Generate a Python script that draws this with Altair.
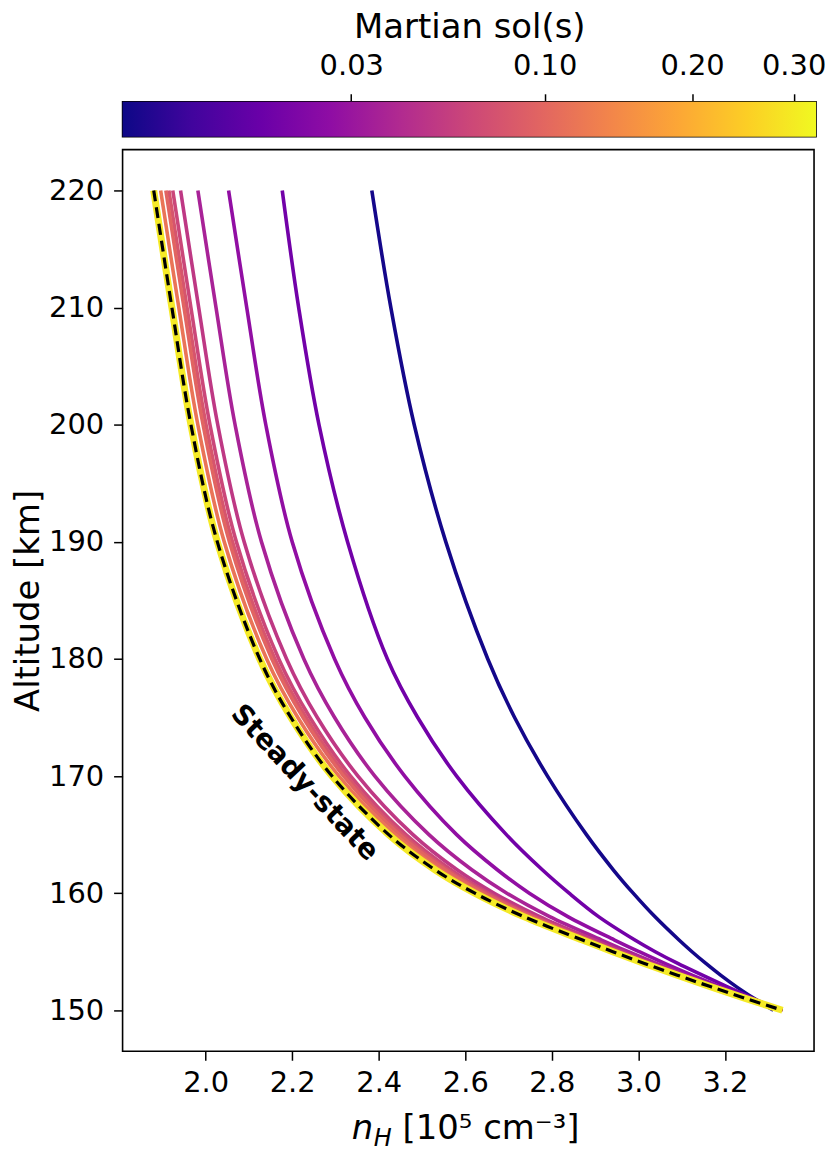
import altair as alt
import pandas as pd

# ---------------- data ----------------
ALT = [220, 210, 200, 190, 180, 175, 170, 165, 162, 160, 158, 156, 155, 154, 153, 152, 151, 150]

STEADY = [1.880, 1.922, 1.966, 2.027, 2.125, 2.197, 2.292, 2.423, 2.530, 2.622,
          2.735, 2.871, 2.941, 3.014, 3.090, 3.168, 3.249, 3.333]

SOL_TIMES = [0.003, 0.016, 0.026, 0.037, 0.053, 0.066, 0.080, 0.097, 0.116]

N_T1 = [2.384, 2.428, 2.482, 2.555, 2.652, 2.714, 2.790, 2.880, 2.942, 2.988,
        3.038, 3.094, 3.124, 3.156, 3.190, 3.227, 3.268, 3.312]
N_T2 = [2.177, 2.215, 2.262, 2.328, 2.420, 2.490, 2.580, 2.695, 2.778, 2.840,
        2.908, 2.992, 3.039, 3.091, 3.148, 3.206, 3.266, 3.326]
N_T3 = [2.053, 2.095, 2.139, 2.200, 2.298, 2.368, 2.460, 2.580, 2.674, 2.748,
        2.837, 2.945, 3.002, 3.061, 3.124, 3.190, 3.259, 3.333]
N_T4 = [1.982, 2.024, 2.068, 2.129, 2.227, 2.298, 2.391, 2.516, 2.615, 2.696,
        2.795, 2.915, 2.977, 3.042, 3.110, 3.181, 3.255, 3.333]
N_T5 = [1.942, 1.984, 2.028, 2.089, 2.187, 2.258, 2.352, 2.479, 2.581, 2.667,
        2.772, 2.898, 2.963, 3.031, 3.102, 3.176, 3.253, 3.333]
N_T6 = [1.924, 1.966, 2.010, 2.071, 2.169, 2.241, 2.335, 2.463, 2.567, 2.654,
        2.761, 2.890, 2.956, 3.026, 3.099, 3.174, 3.252, 3.333]
N_T7 = [1.915, 1.957, 2.001, 2.062, 2.160, 2.232, 2.326, 2.455, 2.559, 2.648,
        2.756, 2.886, 2.953, 3.023, 3.097, 3.172, 3.251, 3.333]
N_T8 = [1.908, 1.950, 1.994, 2.055, 2.153, 2.225, 2.319, 2.448, 2.553, 2.642,
        2.752, 2.883, 2.951, 3.022, 3.095, 3.172, 3.251, 3.333]
N_T9 = [1.896, 1.938, 1.982, 2.043, 2.141, 2.213, 2.308, 2.438, 2.543, 2.634,
        2.744, 2.878, 2.947, 3.018, 3.093, 3.170, 3.250, 3.333]
TRANSIENT = [N_T1, N_T2, N_T3, N_T4, N_T5, N_T6, N_T7, N_T8, N_T9]

FINAL_TIME = 0.30

CB_TICKS = [0.03, 0.10, 0.20, 0.30]
VMIN, VMAX = 0.0027, 0.326
X_TICKS = [2.0, 2.2, 2.4, 2.6, 2.8, 3.0, 3.2]
Y_TICKS = [150, 160, 170, 180, 190, 200, 210, 220]

PLASMA = ["#0d0887", "#41049d", "#6a00a8", "#8f0da4", "#b12a90", "#cc4778",
          "#e16462", "#f2844b", "#fca636", "#fcce25", "#f0f921"]

FONT = "DejaVu Sans"

# ---------------- tables ----------------
rows = []
for k, (t, xs) in enumerate(zip(SOL_TIMES, TRANSIENT)):
    for a, x in zip(ALT, xs):
        rows.append({"curve": k, "t": t, "alt": a, "n": x})
df_tr = pd.DataFrame(rows)
df_ss = pd.DataFrame({"alt": ALT, "n": STEADY, "t": [FINAL_TIME] * len(ALT)})

W, H = 694, 905

xscale = alt.Scale(domain=[1.808, 3.406], nice=False, zero=False)
yscale = alt.Scale(domain=[146.5, 223.5], nice=False, zero=False)
cscale = alt.Scale(type="pow", exponent=0.3, domain=[VMIN, VMAX], scheme="plasma")

xaxis = alt.Axis(values=X_TICKS, format=".1f", title=None, tickSize=9, labelPadding=8)
yaxis = alt.Axis(values=Y_TICKS, format="d", title="Altitude [km]", tickSize=9,
                 labelPadding=10, titlePadding=3)

X = alt.X("n:Q", scale=xscale, axis=xaxis)
Y = alt.Y("alt:Q", scale=yscale, axis=yaxis)

lines = alt.Chart(df_tr).mark_line(strokeWidth=3.6, interpolate="catmull-rom").encode(
    x=X, y=Y,
    color=alt.Color("t:Q", scale=cscale, legend=None),
    detail="curve:N",
    order=alt.Order("alt:Q", sort="descending"),
)

yellow = alt.Chart(df_ss).mark_line(strokeWidth=7, interpolate="catmull-rom").encode(
    x=X, y=Y, color=alt.Color("t:Q", scale=cscale, legend=None),
    order=alt.Order("alt:Q", sort="descending"),
)

dashed = alt.Chart(df_ss).mark_line(
    strokeWidth=3.2, color="black", strokeDash=[11, 6], interpolate="catmull-rom"
).encode(x=X, y=Y, order=alt.Order("alt:Q", sort="descending"))

label = alt.Chart(pd.DataFrame({"n": [2.228], "alt": [169.4], "txt": ["Steady-state"]})).mark_text(
    angle=47, font=FONT, fontSize=28, fontWeight="bold", color="black",
    align="center", baseline="middle"
).encode(x="n:Q", y="alt:Q", text="txt:N")

one = pd.DataFrame({"a": [0]})
t_n = alt.Chart(one).mark_text(font=FONT, fontSize=34, fontStyle="italic", align="left",
                               baseline="alphabetic", color="black", text="n").encode(
    x=alt.value(230), y=alt.value(993))
t_h = alt.Chart(one).mark_text(font=FONT, fontSize=24, fontStyle="italic", align="left",
                               baseline="alphabetic", color="black", text="H").encode(
    x=alt.value(252), y=alt.value(1000))
t_u = alt.Chart(one).mark_text(font=FONT, fontSize=34, align="left",
                               baseline="alphabetic", color="black", text="[10⁵ cm⁻³]").encode(
    x=alt.value(281), y=alt.value(993))

main = alt.layer(lines, yellow, dashed, label, t_n, t_h, t_u).properties(width=W, height=H)

grad = alt.Gradient(
    gradient="linear",
    stops=[alt.GradientStop(offset=i / (len(PLASMA) - 1), color=c) for i, c in enumerate(PLASMA)],
    x1=0, x2=1, y1=0, y2=0,
)
cbar = alt.Chart(pd.DataFrame({"lo": [VMIN], "hi": [VMAX]})).mark_rect(color=grad).encode(
    x=alt.X("lo:Q",
            scale=alt.Scale(type="pow", exponent=0.3, domain=[VMIN, VMAX], nice=False, zero=False),
            axis=alt.Axis(orient="top", values=CB_TICKS, format=".2f", title="Martian sol(s)",
                          tickSize=8, labelPadding=13, titlePadding=7)),
    x2="hi:Q",
).properties(width=696, height=35)

chart = alt.vconcat(cbar, main, spacing=11).properties(
    padding={"left": 2, "top": 0, "right": -2, "bottom": 0}
).configure_view(stroke="black", strokeWidth=1.6).configure_axis(
    labelFont=FONT, titleFont=FONT, labelFontSize=29, titleFontSize=34,
    titleFontWeight="normal", labelColor="black", titleColor="black",
    tickColor="black", tickWidth=1.5, domain=False, grid=False,
)

chart.save("out.html", embed_options={"renderer": "svg", "actions": False})
